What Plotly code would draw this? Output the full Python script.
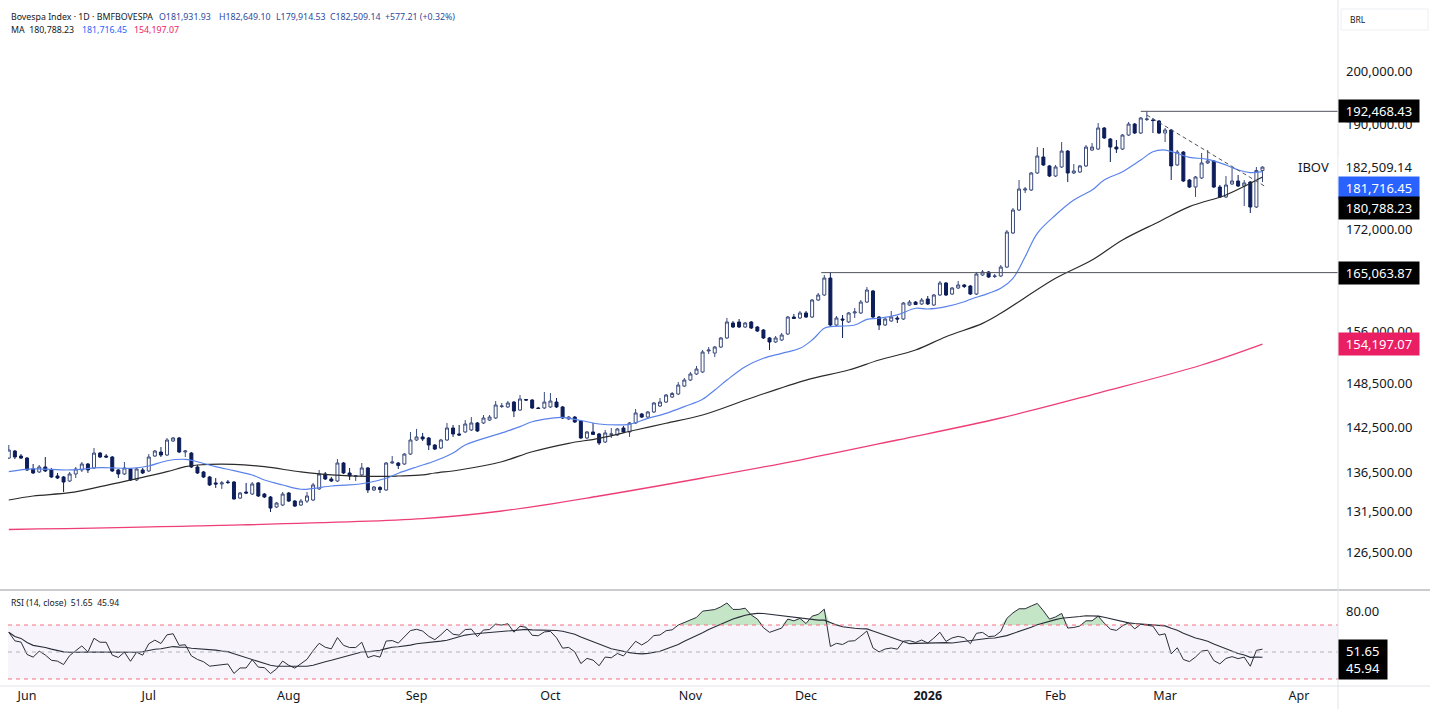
import numpy as np
import pandas as pd
import plotly.graph_objects as go

# ---------------- data ----------------
holidays = ["2025-06-19", "2025-11-20", "2025-12-24", "2025-12-25", "2025-12-31",
            "2026-01-01", "2026-02-16", "2026-02-17"]
calendar = pd.bdate_range("2025-05-28", "2026-04-01")
sessions = [d for d in calendar if d.strftime("%Y-%m-%d") not in holidays]
N_BARS = 207
dates = sessions[:N_BARS]

open_ = [
    138340, 139270, 138610, 138340, 136910, 136520, 137170, 136780, 136000, 135870,
    135350, 136260, 136780, 137560, 137040, 139000, 138610, 138480, 136780, 136260,
    136910, 135480, 136780, 136650, 138610, 139140, 138740, 140610, 141010, 139140,
    139000, 137170, 136520, 135870, 135100, 134970, 135220, 135220, 133170, 133940,
    133680, 135100, 133680, 133300, 132040, 132290, 133810, 132790, 132290, 132790,
    132920, 134330, 136260, 135610, 135350, 137690, 136390, 135940, 136130, 137040,
    134200, 134520, 134200, 137690, 137690, 137560, 138870, 140740, 141150, 141010,
    140070, 139670, 140740, 142360, 141550, 141820, 142090, 143040, 143040, 143440,
    143720, 145300, 145240, 145920, 144820, 146270, 146200, 145100, 145100, 145240,
    145920, 145240, 143580, 143850, 143310, 141010, 141820, 141550, 140470, 141490,
    141420, 142360, 141820, 143040, 144270, 143850, 144550, 145370, 145920, 146620,
    147040, 148160, 149010, 149870, 150160, 153190, 152890, 153770, 155100, 157330,
    157480, 156730, 157480, 156730, 156280, 155100, 154510, 154800, 155690, 158230,
    158080, 158840, 158230, 160810, 161580, 164210, 157030, 157930, 157480, 158840,
    158840, 160500, 162200, 158230, 157030, 157630, 158080, 157930, 160050, 160500,
    160200, 160960, 160050, 161580, 163440, 161730, 162660, 163130, 162970, 161730,
    164690, 165160, 164450, 164530, 165940, 171410, 175200, 178570, 178570, 181490,
    184270, 182710, 180970, 182530, 185320, 181490, 181660, 182710, 185500, 185680,
    189430, 187460, 186030, 185680, 188170, 190150, 188530, 190970, 190880, 190700,
    188530, 189070, 182880, 185150, 180280, 179080, 180630, 183230, 183580, 179080,
    177390, 179600, 180110, 179250, 179940, 175700, 181931.93]

high = [
    140070, 139400, 138870, 138480, 137560, 137430, 138480, 137040, 136390, 136000,
    136520, 137170, 137820, 137690, 139670, 139140, 138870, 138610, 136910, 137820,
    137040, 137040, 137040, 138870, 139400, 139800, 141010, 141150, 141150, 139400,
    139140, 137430, 136650, 136000, 135740, 135350, 135480, 135350, 133940, 135100,
    135220, 135220, 133810, 133430, 132670, 133940, 133940, 132920, 133050, 133940,
    135100, 136780, 136520, 135870, 138210, 137820, 137040, 136130, 137690, 137170,
    134710, 134710, 137820, 138610, 137820, 139000, 141820, 142230, 141690, 141150,
    140200, 140880, 143040, 142770, 142770, 143440, 143850, 143170, 144130, 144130,
    146060, 145790, 146060, 146060, 146900, 146340, 146340, 145240, 147320, 147180,
    146480, 145370, 143990, 143990, 143440, 141960, 143040, 141690, 142090, 142360,
    142360, 142630, 143170, 144960, 144410, 144680, 145920, 146480, 147040, 147320,
    148730, 149300, 150160, 151020, 153330, 153770, 153920, 155240, 158080, 157630,
    157930, 157480, 157630, 156880, 156430, 155240, 155390, 155840, 158380, 158690,
    159140, 159140, 160960, 161890, 164690, 165063.87, 158380, 158530, 158990, 159590,
    160810, 162810, 162350, 158380, 158080, 159140, 158380, 160500, 160810, 160660,
    161120, 161430, 161730, 163750, 163590, 162810, 163750, 163280, 163130, 165160,
    165470, 165310, 164840, 166260, 171900, 175530, 180280, 179080, 181660, 186030,
    185860, 182880, 182880, 186920, 185500, 183050, 182880, 186390, 186750, 190340,
    189610, 187640, 187280, 188350, 190520, 190340, 191430, 192468.43, 191250, 190880,
    189430, 189250, 185500, 185320, 180450, 180970, 184980, 185500, 183750, 179420,
    180970, 182360, 181140, 180280, 180110, 182530, 182649.10]

low = [
    138210, 138210, 138210, 136650, 136260, 136390, 136520, 135740, 135610, 133940,
    135220, 135740, 136520, 136390, 136910, 138340, 138340, 136520, 135740, 136130,
    135350, 135350, 136260, 136520, 138480, 138480, 138610, 140470, 139000, 138480,
    137040, 136260, 135740, 134710, 134460, 134330, 134970, 132990, 133050, 133680,
    133560, 133300, 133170, 131410, 131910, 132160, 132670, 132040, 132160, 132540,
    132790, 134200, 135480, 135220, 135220, 136260, 135480, 135350, 136000, 133810,
    134070, 133810, 134070, 137560, 136910, 137430, 138740, 140610, 140610, 139400,
    139400, 139530, 140610, 141150, 141280, 141690, 141960, 141820, 142900, 143310,
    143580, 145100, 145100, 143850, 144680, 146060, 144960, 144960, 144960, 145100,
    145100, 143580, 143440, 143040, 140880, 140880, 141420, 140070, 140340, 141010,
    141280, 141690, 141150, 142900, 143720, 143720, 144410, 145240, 145790, 146480,
    146900, 148020, 148870, 149730, 150010, 152750, 152310, 153620, 154950, 156580,
    156580, 156580, 156430, 155980, 154950, 153330, 154360, 154650, 155540, 157930,
    157930, 158080, 158080, 160660, 161430, 156730, 156880, 155100, 157330, 158080,
    158690, 160350, 158080, 156280, 156880, 157480, 157330, 157780, 159900, 160050,
    160050, 160050, 159900, 161430, 161430, 161580, 162500, 162660, 161580, 161580,
    164530, 164210, 164210, 164370, 165780, 171250, 175030, 178060, 178400, 181320,
    182710, 180800, 180800, 182360, 179940, 181320, 181490, 182530, 185320, 185500,
    187460, 183400, 184980, 185500, 187990, 188350, 188350, 190700, 188530, 188350,
    186920, 180280, 182710, 179940, 178910, 177390, 180450, 183050, 178910, 177220,
    177220, 179420, 179080, 175870, 174700, 175530, 179914.53]

close = [
    139400, 138480, 138340, 136780, 136390, 137170, 136650, 135870, 135740, 135220,
    136260, 136910, 137560, 136780, 139000, 138480, 138480, 136650, 136260, 137040,
    135480, 136910, 136390, 138480, 139270, 138740, 140740, 141010, 139140, 139270,
    137170, 136390, 135870, 134840, 134970, 135100, 135160, 133050, 133810, 133810,
    134970, 133430, 133300, 131910, 132540, 133680, 132790, 132160, 132790, 133430,
    134840, 136260, 135610, 135350, 137690, 136390, 136000, 136000, 137040, 134200,
    134580, 134260, 137690, 137820, 137370, 138870, 140740, 141150, 140880, 140070,
    139530, 140740, 142360, 141550, 141420, 142900, 143040, 141960, 143720, 143850,
    145510, 145370, 145790, 144680, 146340, 146200, 145100, 145030, 145920, 146060,
    145240, 143720, 143850, 143170, 141010, 141820, 141490, 140340, 141690, 141550,
    142230, 141820, 143040, 144410, 143850, 144550, 145790, 145920, 146900, 147110,
    148300, 149010, 149870, 150580, 153040, 153330, 153770, 155100, 157480, 156730,
    156730, 157330, 156580, 156130, 155100, 154510, 155100, 155540, 158230, 158010,
    158840, 158230, 160810, 161580, 164210, 157030, 158080, 157780, 158840, 158990,
    160500, 162350, 158230, 157030, 157930, 158230, 157930, 160350, 160500, 160120,
    160810, 160200, 161580, 163440, 161580, 162660, 163130, 162890, 161730, 164840,
    165160, 164370, 164530, 165940, 171570, 175200, 178740, 178740, 181490, 184450,
    182880, 180970, 182530, 185320, 181490, 181840, 182710, 186030, 186030, 189430,
    187640, 186030, 185680, 188170, 190150, 188530, 191250, 191060, 190790, 188530,
    189070, 182710, 185150, 180110, 179080, 180800, 183230, 183580, 179080, 177390,
    179420, 180110, 179250, 179770, 175700, 181930, 182509.14]

# moving averages (bar index -> value)
ma_fast_idx = [0, 4, 10, 15, 20, 23, 26, 29, 31, 34, 37, 40, 42, 45, 48, 50, 53, 56, 59, 62,
               64, 67, 70, 73, 75, 81, 84, 86, 89, 91, 93, 95, 97, 100, 102, 103, 105, 108,
               111, 114, 116, 118, 121, 124, 127, 130, 132, 134, 135, 139, 141, 143, 146,
               149, 151, 154, 157, 158, 161, 163, 165, 167, 169, 172, 175, 178, 180, 183,
               186, 188, 190, 192, 194, 197, 200, 202, 204, 206]
ma_fast_val = [136560, 136910, 136780, 137080, 137000, 137300, 137990, 138170, 137860, 137210,
               136690, 136130, 135480, 134840, 134290, 134400, 134710, 134840, 135130, 135700,
               136350, 137170, 137950, 139000, 140070, 141690, 142540, 143210, 143670, 143810,
               143540, 143210, 142900, 142770, 142860, 143080, 143670, 144360, 145280, 146300,
               147600, 149010, 150910, 152130, 152850, 153580, 154800, 156530, 156780, 157030,
               157880, 158040, 158540, 159550, 159440, 159800, 160550, 160920, 161840, 162620,
               164170, 167580, 171360, 174370, 176880, 178570, 180280, 181720, 183750, 185200,
               185500, 184920, 184220, 183870, 182880, 182010, 181550, 181716.45]

ma_mid_idx = [0, 4, 10, 15, 20, 26, 29, 31, 37, 42, 48, 53, 59, 64, 68, 70, 74, 81, 86, 92,
              97, 103, 108, 114, 122, 131, 138, 143, 149, 154, 160, 163, 172, 178, 183, 189,
              194, 200, 204, 206]
ma_mid_val = [132920, 133430, 133850, 134620, 135480, 136560, 137210, 137430, 137520, 137210,
              136520, 136130, 135940, 136000, 136130, 136390, 136780, 137860, 139170, 140300,
              140970, 142090, 143000, 144130, 146480, 149010, 150440, 151880, 153330, 155290,
              157280, 158790, 164170, 167050, 170270, 173260, 175760, 177730, 179720, 180788.23]

ma_slow_idx = [0, 31, 68, 81, 97, 114, 130, 146, 163, 179, 196, 206]
ma_slow_val = [129240, 129680, 130580, 131540, 133430, 135740, 138080, 140740, 143720,
               147180, 151160, 154197.07]

# drawn levels
peak_level = 192468.43
peak_start = 186
break_level = 165063.87
break_start = 133.5
trend_idx = [187, 206.6]
trend_val = [191790, 179080]

price_ticks = [126500, 131500, 136500, 142500, 148500, 156000, 172000, 190000, 200000]
rsi_len = 14
rsi_seed_gain = 420.0
rsi_seed_loss = 230.0

# ---------------- indicators ----------------
idx = list(range(N_BARS))
c = np.array(close, dtype=float)
ag, al = rsi_seed_gain, rsi_seed_loss
rsi = [100 - 100 / (1 + ag / al)]
for i in range(1, N_BARS):
    ch = c[i] - c[i - 1]
    ag = (ag * (rsi_len - 1) + max(ch, 0)) / rsi_len
    al = (al * (rsi_len - 1) + max(-ch, 0)) / rsi_len
    rsi.append(100 - 100 / (1 + ag / al))
rsi = np.array(rsi)
rsi_ma = pd.Series(rsi).rolling(rsi_len, min_periods=1).mean().values

# month ticks
tick_pos, tick_txt = [], []
prev = None
for i, d in enumerate(sessions):
    key = (d.year, d.month)
    if key != prev:
        if prev is not None:
            tick_pos.append(i)
            tick_txt.append("<b>2026</b>" if d.month == 1 else d.strftime("%b"))
        prev = key

# ---------------- figure ----------------
FONT = "Noto Sans, Open Sans, sans-serif"
TXT = "#131722"
UP = "#3a4a7c"
DN = "#0d1e5a"
AXF = 13

fig = go.Figure()
fig.add_trace(go.Candlestick(
    x=idx, open=open_, high=high, low=low, close=close,
    increasing=dict(line=dict(color=UP, width=1), fillcolor="#ffffff"),
    decreasing=dict(line=dict(color=DN, width=1), fillcolor=DN),
    whiskerwidth=0, xaxis="x", yaxis="y", hoverinfo="skip", showlegend=False))

fig.add_trace(go.Scatter(x=ma_slow_idx, y=ma_slow_val, mode="lines", line=dict(color="#ee3e76", width=1.3, shape="spline"),
                         xaxis="x", yaxis="y", hoverinfo="skip", showlegend=False))
fig.add_trace(go.Scatter(x=ma_mid_idx, y=ma_mid_val, mode="lines", line=dict(color="#2b2b2b", width=1.2, shape="spline"),
                         xaxis="x", yaxis="y", hoverinfo="skip", showlegend=False))
fig.add_trace(go.Scatter(x=ma_fast_idx, y=ma_fast_val, mode="lines", line=dict(color="#5a83ea", width=1.2, shape="spline"),
                         xaxis="x", yaxis="y", hoverinfo="skip", showlegend=False))

fig.add_trace(go.Scatter(x=[peak_start, 230], y=[peak_level, peak_level], mode="lines",
                         line=dict(color="#50535e", width=1), xaxis="x", yaxis="y", hoverinfo="skip", showlegend=False))
fig.add_trace(go.Scatter(x=[break_start, 230], y=[break_level, break_level], mode="lines",
                         line=dict(color="#50535e", width=1), xaxis="x", yaxis="y", hoverinfo="skip", showlegend=False))
fig.add_trace(go.Scatter(x=trend_idx, y=trend_val, mode="lines",
                         line=dict(color="#50535e", width=1, dash="4px,3px"), xaxis="x", yaxis="y", hoverinfo="skip", showlegend=False))

# RSI panel
fig.add_trace(go.Scatter(x=idx, y=[70] * N_BARS, mode="lines", line=dict(width=0), xaxis="x2", yaxis="y2",
                         hoverinfo="skip", showlegend=False))
fig.add_trace(go.Scatter(x=idx, y=np.maximum(rsi, 70), mode="lines", line=dict(width=0), fill="tonexty",
                         fillcolor="rgba(76,175,80,0.32)", xaxis="x2", yaxis="y2", hoverinfo="skip", showlegend=False))
fig.add_trace(go.Scatter(x=idx, y=rsi_ma, mode="lines", line=dict(color="#2a2e39", width=1.1),
                         xaxis="x2", yaxis="y2", hoverinfo="skip", showlegend=False))
fig.add_trace(go.Scatter(x=idx, y=rsi, mode="lines", line=dict(color="#2a2e39", width=1),
                         xaxis="x2", yaxis="y2", hoverinfo="skip", showlegend=False))

H_PLOT = 686.0
def py(px):
    return 1 - px / H_PLOT

MAIN_BOTTOM = py(590)
RSI_TOP = py(591)

fig.update_layout(
    template="none",
    width=1430, height=709,
    margin=dict(l=8, r=92, t=0, b=23, autoexpand=False),
    paper_bgcolor="white", plot_bgcolor="white",
    font=dict(family=FONT, color=TXT, size=12.5),
    hovermode=False,
    xaxis=dict(domain=[0, 1], range=[-0.131, 218.41], showgrid=False, zeroline=False, showline=False,
               showticklabels=False, ticks="", rangeslider=dict(visible=False), anchor="y", matches="x2",
               automargin=False),
    yaxis=dict(domain=[MAIN_BOTTOM, 1], type="log", range=[5.08638, 5.33040], side="right",
               showgrid=False, zeroline=False, showline=False, tickvals=price_ticks,
               ticktext=[f"{v:,.2f}" for v in price_ticks], ticks="", ticklabelstandoff=7,
               tickfont=dict(size=AXF, color=TXT), anchor="x", automargin=False),
    xaxis2=dict(domain=[0, 1], range=[-0.131, 218.41], showgrid=False, zeroline=False, showline=False,
                tickvals=tick_pos, ticktext=tick_txt, ticks="", tickfont=dict(size=12.5, color=TXT),
                anchor="y2", automargin=False),
    yaxis2=dict(domain=[0, RSI_TOP], range=[24.81, 95.19], side="right", showgrid=False, zeroline=False,
                showline=False, tickvals=[80], ticktext=["80.00"], ticks="", ticklabelstandoff=7,
                tickfont=dict(size=AXF, color=TXT), anchor="x2", automargin=False),
)

shapes = [
    dict(type="rect", xref="x2 domain", yref="y2", x0=0, x1=1, y0=30, y1=70,
         fillcolor="rgba(126,87,194,0.06)", line=dict(width=0), layer="below"),
    dict(type="line", xref="x2 domain", yref="y2", x0=0, x1=1, y0=70, y1=70,
         line=dict(color="#f4707f", width=1, dash="4px,4px")),
    dict(type="line", xref="x2 domain", yref="y2", x0=0, x1=1, y0=30, y1=30,
         line=dict(color="#f4707f", width=1, dash="4px,4px")),
    dict(type="line", xref="x2 domain", yref="y2", x0=0, x1=1, y0=50, y1=50,
         line=dict(color="#b2b5be", width=1, dash="4px,4px")),
    dict(type="line", xref="paper", yref="paper", x0=-0.01, x1=1.07, y0=MAIN_BOTTOM, y1=MAIN_BOTTOM,
         line=dict(color="#9598a1", width=1)),
    dict(type="line", xref="paper", yref="paper", x0=-0.01, x1=1.07, y0=0, y1=0,
         line=dict(color="#e0e3eb", width=1)),
    dict(type="line", xref="paper", yref="paper", x0=1, x1=1, y0=py(709), y1=1,
         line=dict(color="#e0e3eb", width=1)),
    dict(type="rect", xref="paper", yref="paper", x0=(1341 - 8) / 1330, x1=(1428 - 8) / 1330,
         y0=py(30), y1=py(9), line=dict(color="#eceef2", width=1), fillcolor="white"),
]
fig.update_layout(shapes=shapes)

ann = []
def A(**kw):
    base = dict(showarrow=False, font=dict(family=FONT, size=12.5, color=TXT))
    base.update(kw)
    ann.append(base)

def px_x(px):
    return (px - 8) / 1330.0

# header
HY1, HY2 = py(16.5), py(30.5)
OHLC_C = "#2c4a9e"
HF = 8.8
A(xref="paper", yref="paper", x=px_x(9), y=HY1, xanchor="left", yanchor="middle",
  text="Bovespa Index · 1D · BMFBOVESPA", font=dict(family=FONT, size=HF, color=TXT))
for xx, t in [(157, "O181,931.93"), (217, "H182,649.10"), (274, "L179,914.53"), (328, "C182,509.14"),
              (383, "+577.21 (+0.32%)")]:
    A(xref="paper", yref="paper", x=px_x(xx), y=HY1, xanchor="left", yanchor="middle",
      text=t, font=dict(family=FONT, size=HF, color=OHLC_C))
A(xref="paper", yref="paper", x=px_x(9), y=HY2, xanchor="left", yanchor="middle",
  text="MA  180,788.23", font=dict(family=FONT, size=HF, color=TXT))
A(xref="paper", yref="paper", x=px_x(80), y=HY2, xanchor="left", yanchor="middle",
  text="181,716.45", font=dict(family=FONT, size=HF, color="#2962ff"))
A(xref="paper", yref="paper", x=px_x(132), y=HY2, xanchor="left", yanchor="middle",
  text="154,197.07", font=dict(family=FONT, size=HF, color="#e91e63"))
A(xref="paper", yref="paper", x=px_x(9), y=py(603), xanchor="left", yanchor="middle",
  text="RSI (14, close)  51.65  45.94", font=dict(family=FONT, size=8.6, color=TXT))
A(xref="paper", yref="paper", x=px_x(1348), y=py(19), xanchor="left", yanchor="middle",
  text="BRL", font=dict(family=FONT, size=8.5, color=TXT))

# price labels on the scale
def box(yref, y, text, bg, fg="white", yanchor="middle"):
    A(xref="paper", yref=yref, x=1, y=y, xanchor="left", yanchor=yanchor, text=text,
      bgcolor=bg, width=76, align="center", borderpad=2,
      font=dict(family=FONT, size=AXF, color=fg))

box("y", np.log10(peak_level), f"{peak_level:,.2f}", "#000000")
box("y", np.log10(break_level), f"{break_level:,.2f}", "#000000")
box("y", np.log10(ma_slow_val[-1]), f"{ma_slow_val[-1]:,.2f}", "#e91e63")
A(xref="paper", yref="y", x=1, y=np.log10(close[-1]), xanchor="left", yanchor="middle",
  text=f"{close[-1]:,.2f}", width=76, align="center", borderpad=2, bgcolor="white",
  font=dict(family=FONT, size=AXF, color=TXT))
box("paper", py(188), f"{ma_fast_val[-1]:,.2f}", "#2962ff")
box("paper", py(208), f"{ma_mid_val[-1]:,.2f}", "#000000")
A(xref="paper", yref="y", x=px_x(1331), y=np.log10(close[-1]), xanchor="right", yanchor="middle",
  text="IBOV", font=dict(family=FONT, size=AXF, color=TXT))
A(xref="paper", yref="paper", x=1, y=py(659.5), xanchor="left", yanchor="middle",
  text="51.65<br>45.94", bgcolor="#000000", width=44, align="center", borderpad=2,
  font=dict(family=FONT, size=AXF, color="white"))

fig.update_layout(annotations=ann)
fig.write_html("out.html", config={"displayModeBar": False},
               post_script="document.body.style.margin='0px';document.body.style.overflow='hidden';")
